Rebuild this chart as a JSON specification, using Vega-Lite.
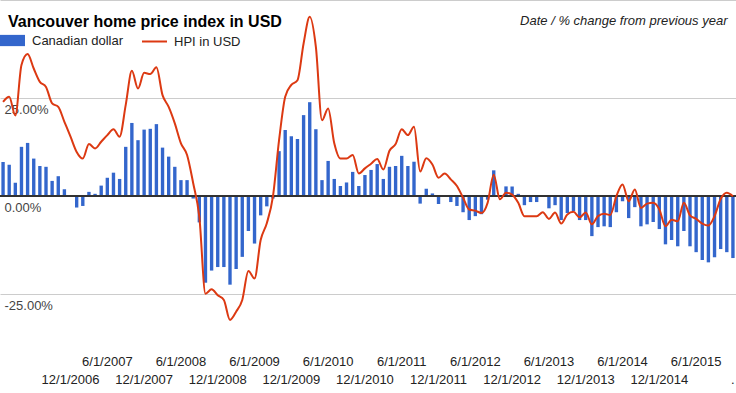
{
  "$schema": "https://vega.github.io/schema/vega-lite/v6.json",
  "width": 736,
  "height": 325,
  "autosize": {"type": "none"},
  "padding": {"left": 0, "top": 0, "right": 0, "bottom": 68},
  "background": "white",
  "config": {
    "view": {"stroke": null},
    "font": "Liberation Sans",
    "axisY": {
      "orient": "left",
      "grid": true, "gridColor": "#cccccc", "domain": false, "ticks": false,
      "labelExpr": "datum.value >= 50 ? '' : (datum.value < 0 ? '-' + format(-datum.value, '.2f') : format(datum.value, '.2f')) + '%'",
      "labelAlign": "left", "labelPadding": -4, "labelBaseline": "middle", "labelOffset": 11.5,
      "labelFontSize": 13, "labelColor": "#444444", "labelFont": "Liberation Sans", "labelOverlap": false, "labelFlush": false
    }
  },
  "title": {"text": "Vancouver home price index in USD", "anchor": "start", "frame": "group", "orient": "top", "offset": 0, "dx": 8, "dy": 43, "baseline": "alphabetic", "fontSize": 16, "fontWeight": "bold", "color": "#000000", "font": "Liberation Sans"},
  "data": {"values": [
    {"date": "1/1/2006", "cad": 8.6, "hpi": 24.0},
    {"date": "2/1/2006", "cad": 7.9, "hpi": 25.3},
    {"date": "3/1/2006", "cad": 3.3, "hpi": 20.5},
    {"date": "4/1/2006", "cad": 12.5, "hpi": 33.4},
    {"date": "5/1/2006", "cad": 13.5, "hpi": 36.2},
    {"date": "6/1/2006", "cad": 9.5, "hpi": 32.5},
    {"date": "7/1/2006", "cad": 7.6, "hpi": 29.1},
    {"date": "8/1/2006", "cad": 7.4, "hpi": 27.8},
    {"date": "9/1/2006", "cad": 3.8, "hpi": 23.6},
    {"date": "10/1/2006", "cad": 5.0, "hpi": 22.7},
    {"date": "11/1/2006", "cad": 1.7, "hpi": 18.9},
    {"date": "12/1/2006", "cad": -0.2, "hpi": 15.1},
    {"date": "1/1/2007", "cad": -3.0, "hpi": 11.2},
    {"date": "2/1/2007", "cad": -2.6, "hpi": 9.5},
    {"date": "3/1/2007", "cad": 1.0, "hpi": 13.2},
    {"date": "4/1/2007", "cad": 0.5, "hpi": 12.1},
    {"date": "5/1/2007", "cad": 2.6, "hpi": 13.8},
    {"date": "6/1/2007", "cad": 4.6, "hpi": 15.5},
    {"date": "7/1/2007", "cad": 5.9, "hpi": 17.0},
    {"date": "8/1/2007", "cad": 4.3, "hpi": 15.1},
    {"date": "9/1/2007", "cad": 12.5, "hpi": 23.2},
    {"date": "10/1/2007", "cad": 18.6, "hpi": 31.9},
    {"date": "11/1/2007", "cad": 14.2, "hpi": 27.4},
    {"date": "12/1/2007", "cad": 16.9, "hpi": 31.4},
    {"date": "1/1/2008", "cad": 17.1, "hpi": 31.1},
    {"date": "2/1/2008", "cad": 18.3, "hpi": 32.8},
    {"date": "3/1/2008", "cad": 12.3, "hpi": 25.7},
    {"date": "4/1/2008", "cad": 10.0, "hpi": 22.7},
    {"date": "5/1/2008", "cad": 7.4, "hpi": 18.5},
    {"date": "6/1/2008", "cad": 4.0, "hpi": 13.4},
    {"date": "7/1/2008", "cad": 4.0, "hpi": 10.4},
    {"date": "8/1/2008", "cad": -0.7, "hpi": 3.2},
    {"date": "9/1/2008", "cad": -6.8, "hpi": -5.4},
    {"date": "10/1/2008", "cad": -22.2, "hpi": -25.0},
    {"date": "11/1/2008", "cad": -19.1, "hpi": -23.9},
    {"date": "12/1/2008", "cad": -18.2, "hpi": -25.4},
    {"date": "1/1/2009", "cad": -18.2, "hpi": -26.6},
    {"date": "2/1/2009", "cad": -22.7, "hpi": -31.7},
    {"date": "3/1/2009", "cad": -18.7, "hpi": -29.6},
    {"date": "4/1/2009", "cad": -15.6, "hpi": -26.6},
    {"date": "5/1/2009", "cad": -9.0, "hpi": -19.2},
    {"date": "6/1/2009", "cad": -12.2, "hpi": -21.1},
    {"date": "7/1/2009", "cad": -5.0, "hpi": -11.3},
    {"date": "8/1/2009", "cad": -2.7, "hpi": -7.0},
    {"date": "9/1/2009", "cad": -0.7, "hpi": -0.2},
    {"date": "10/1/2009", "cad": 11.4, "hpi": 14.2},
    {"date": "11/1/2009", "cad": 16.8, "hpi": 25.3},
    {"date": "12/1/2009", "cad": 15.2, "hpi": 28.3},
    {"date": "1/1/2010", "cad": 14.5, "hpi": 29.5},
    {"date": "2/1/2010", "cad": 20.6, "hpi": 38.9},
    {"date": "3/1/2010", "cad": 23.9, "hpi": 45.7},
    {"date": "4/1/2010", "cad": 17.0, "hpi": 38.0},
    {"date": "5/1/2010", "cad": 4.0, "hpi": 19.3},
    {"date": "6/1/2010", "cad": 8.9, "hpi": 22.3},
    {"date": "7/1/2010", "cad": 4.3, "hpi": 13.4},
    {"date": "8/1/2010", "cad": 2.5, "hpi": 9.5},
    {"date": "9/1/2010", "cad": 3.4, "hpi": 9.5},
    {"date": "10/1/2010", "cad": 6.1, "hpi": 10.4},
    {"date": "11/1/2010", "cad": 2.5, "hpi": 5.7},
    {"date": "12/1/2010", "cad": 5.3, "hpi": 7.0},
    {"date": "1/1/2011", "cad": 6.6, "hpi": 8.2},
    {"date": "2/1/2011", "cad": 8.1, "hpi": 9.4},
    {"date": "3/1/2011", "cad": 4.3, "hpi": 6.7},
    {"date": "4/1/2011", "cad": 7.4, "hpi": 11.5},
    {"date": "5/1/2011", "cad": 7.6, "hpi": 13.2},
    {"date": "6/1/2011", "cad": 10.2, "hpi": 17.0},
    {"date": "7/1/2011", "cad": 7.6, "hpi": 15.5},
    {"date": "8/1/2011", "cad": 8.7, "hpi": 17.6},
    {"date": "9/1/2011", "cad": -2.0, "hpi": 6.2},
    {"date": "10/1/2011", "cad": 1.8, "hpi": 9.6},
    {"date": "11/1/2011", "cad": 0.6, "hpi": 8.0},
    {"date": "12/1/2011", "cad": -2.1, "hpi": 4.6},
    {"date": "1/1/2012", "cad": 0.1, "hpi": 5.7},
    {"date": "2/1/2012", "cad": -1.6, "hpi": 4.2},
    {"date": "3/1/2012", "cad": -2.6, "hpi": 2.5},
    {"date": "4/1/2012", "cad": -4.2, "hpi": -0.5},
    {"date": "5/1/2012", "cad": -6.2, "hpi": -3.5},
    {"date": "6/1/2012", "cad": -5.2, "hpi": -3.8},
    {"date": "7/1/2012", "cad": -4.7, "hpi": -4.4},
    {"date": "8/1/2012", "cad": -1.0, "hpi": -1.8},
    {"date": "9/1/2012", "cad": 6.5, "hpi": 5.4},
    {"date": "10/1/2012", "cad": 0.0, "hpi": -0.9},
    {"date": "11/1/2012", "cad": 2.4, "hpi": 0.8},
    {"date": "12/1/2012", "cad": 2.4, "hpi": 0.3},
    {"date": "1/1/2013", "cad": 0.5, "hpi": -1.8},
    {"date": "2/1/2013", "cad": -2.4, "hpi": -5.2},
    {"date": "3/1/2013", "cad": -1.6, "hpi": -5.2},
    {"date": "4/1/2013", "cad": -1.6, "hpi": -5.2},
    {"date": "5/1/2013", "cad": -0.3, "hpi": -4.2},
    {"date": "6/1/2013", "cad": -3.2, "hpi": -5.9},
    {"date": "7/1/2013", "cad": -2.4, "hpi": -4.3},
    {"date": "8/1/2013", "cad": -6.2, "hpi": -7.1},
    {"date": "9/1/2013", "cad": -4.4, "hpi": -4.8},
    {"date": "10/1/2013", "cad": -3.9, "hpi": -4.1},
    {"date": "11/1/2013", "cad": -6.2, "hpi": -5.5},
    {"date": "12/1/2013", "cad": -6.2, "hpi": -4.3},
    {"date": "1/1/2014", "cad": -10.3, "hpi": -7.3},
    {"date": "2/1/2014", "cad": -8.0, "hpi": -5.2},
    {"date": "3/1/2014", "cad": -7.8, "hpi": -4.6},
    {"date": "4/1/2014", "cad": -8.0, "hpi": -4.9},
    {"date": "5/1/2014", "cad": -4.2, "hpi": -0.1},
    {"date": "6/1/2014", "cad": -1.4, "hpi": 2.9},
    {"date": "7/1/2014", "cad": -5.7, "hpi": -1.4},
    {"date": "8/1/2014", "cad": -2.9, "hpi": 1.6},
    {"date": "9/1/2014", "cad": -7.8, "hpi": -3.1},
    {"date": "10/1/2014", "cad": -7.3, "hpi": -2.0},
    {"date": "11/1/2014", "cad": -6.7, "hpi": -1.8},
    {"date": "12/1/2014", "cad": -8.5, "hpi": -3.5},
    {"date": "1/1/2015", "cad": -12.4, "hpi": -7.8},
    {"date": "2/1/2015", "cad": -11.3, "hpi": -6.1},
    {"date": "3/1/2015", "cad": -12.9, "hpi": -6.5},
    {"date": "4/1/2015", "cad": -9.0, "hpi": -1.8},
    {"date": "5/1/2015", "cad": -12.9, "hpi": -5.0},
    {"date": "6/1/2015", "cad": -14.4, "hpi": -5.9},
    {"date": "7/1/2015", "cad": -16.4, "hpi": -7.1},
    {"date": "8/1/2015", "cad": -17.0, "hpi": -7.6},
    {"date": "9/1/2015", "cad": -15.7, "hpi": -5.2},
    {"date": "10/1/2015", "cad": -13.6, "hpi": -0.8},
    {"date": "11/1/2015", "cad": -14.4, "hpi": 0.8},
    {"date": "12/1/2015", "cad": -15.9, "hpi": -0.1}
  ]},
  "layer": [
    {
      "mark": {"type": "bar"},
      "encoding": {
        "x": {
          "field": "date", "type": "ordinal", "sort": null,
          "scale": {"type": "band", "paddingInner": 0.45, "paddingOuter": 0.225},
          "axis": {
            "orient": "bottom", "title": null, "domain": false, "ticks": false, "tickSize": 0, "grid": false,
            "values": ["6/1/2007", "6/1/2008", "6/1/2009", "6/1/2010", "6/1/2011", "6/1/2012", "6/1/2013", "6/1/2014", "6/1/2015"],
            "labelAngle": 0, "labelPadding": 36, "labelBaseline": "middle", "labelFontSize": 13, "labelColor": "#222222",
            "labelFont": "Liberation Sans", "labelOverlap": false, "labelFlush": false, "labelBound": false
          }
        },
        "y": {
          "field": "cad", "type": "quantitative",
          "scale": {"domain": [-33, 50], "nice": false, "zero": false},
          "title": null,
          "axis": {"values": [-25, 0, 25, 50]}
        },
        "fill": {
          "datum": "Canadian dollar",
          "scale": {"domain": ["Canadian dollar"], "range": ["#3366cc"]},
          "legend": {
            "orient": "none", "legendX": 0, "legendY": 28, "title": null, "padding": 0,
            "symbolType": "M-1,-0.45H1V0.45H-1Z", "symbolSize": 625, "symbolStrokeWidth": 0,
            "labelFontSize": 13, "labelColor": "#222222", "labelFont": "Liberation Sans", "labelOffset": 7
          }
        }
      }
    },
    {
      "mark": {"type": "rule", "color": "#333333", "strokeWidth": 1},
      "encoding": {"y": {"datum": 0, "title": null}}
    },
    {
      "mark": {"type": "line", "interpolate": "monotone", "strokeWidth": 2},
      "encoding": {
        "x": {
          "field": "date", "type": "ordinal", "sort": null,
          "axis": {
            "orient": "bottom", "title": "Date / % change from previous year", "domain": false, "ticks": false, "tickSize": 0, "grid": false,
            "values": ["12/1/2006", "12/1/2007", "12/1/2008", "12/1/2009", "12/1/2010", "12/1/2011", "12/1/2012", "12/1/2013", "12/1/2014", "12/1/2015"],
            "labelExpr": "datum.value === '12/1/2015' ? '.' : datum.value",
            "labelAngle": 0, "labelPadding": 54.5, "labelBaseline": "middle", "labelFontSize": 13, "labelColor": "#222222",
            "labelFont": "Liberation Sans", "labelOverlap": false, "labelFlush": false, "labelBound": false,
            "titleX": 727, "titleY": -301, "titleAlign": "right", "titleBaseline": "alphabetic", "titleAngle": 0,
            "titleFontStyle": "italic", "titleFontWeight": "normal", "titleFontSize": 13, "titleColor": "#222222", "titleFont": "Liberation Sans"
          }
        },
        "y": {"field": "hpi", "type": "quantitative", "title": null},
        "stroke": {
          "datum": "HPI in USD",
          "scale": {"domain": ["HPI in USD"], "range": ["#dc3912"]},
          "legend": {
            "orient": "none", "legendX": 141, "legendY": 28, "title": null, "padding": 0,
            "symbolType": "stroke", "symbolSize": 625, "symbolStrokeWidth": 2,
            "labelFontSize": 13, "labelColor": "#222222", "labelFont": "Liberation Sans", "labelOffset": 6
          }
        }
      }
    }
  ],
  "resolve": {"axis": {"x": "independent"}}
}
